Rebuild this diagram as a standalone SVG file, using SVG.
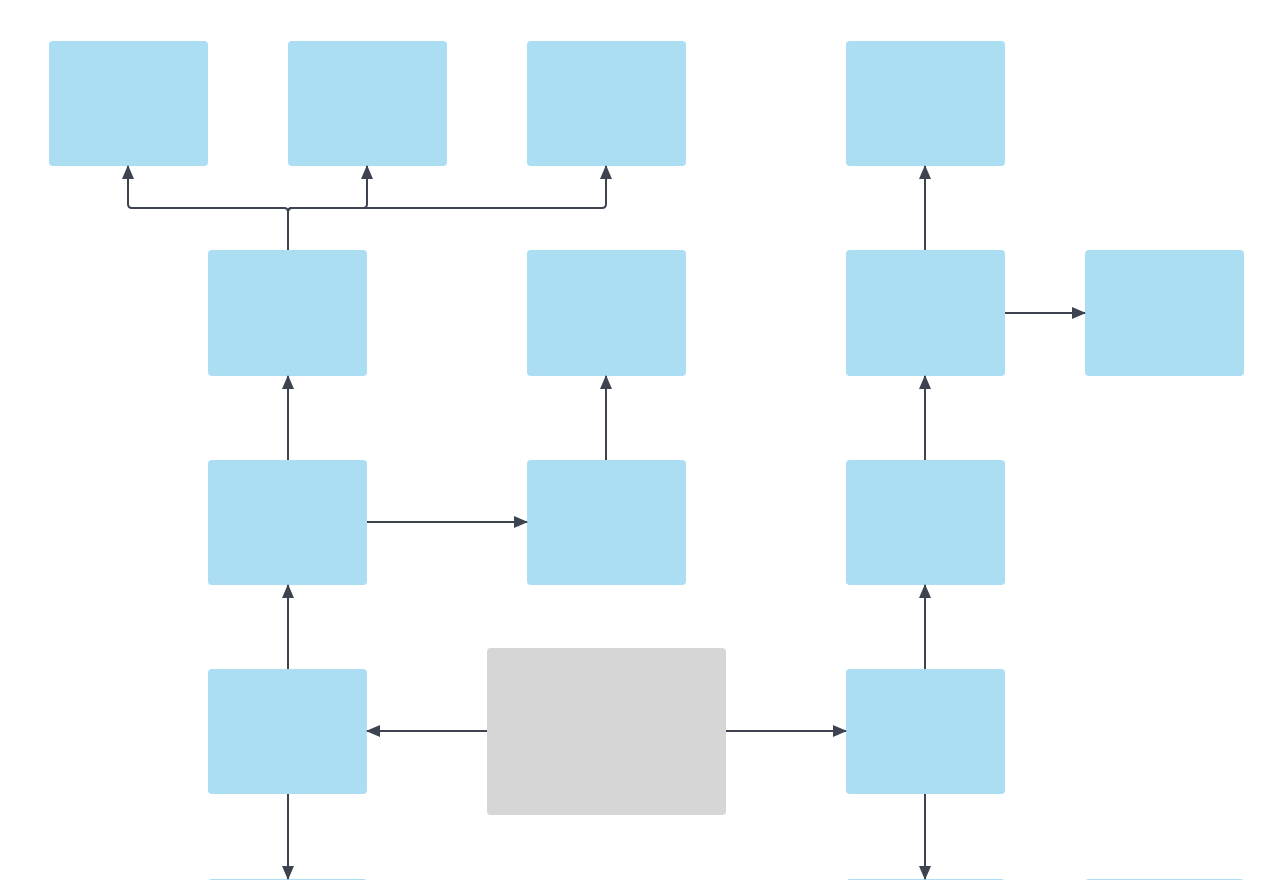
<svg xmlns="http://www.w3.org/2000/svg" width="1280" height="880" viewBox="0 0 1280 880">
<style>
.n{fill:#abddf3;}
.g{fill:#d6d6d6;}
.c{fill:none;stroke:#3d4450;stroke-width:2;}
</style>
<defs>
<marker id="a" markerWidth="14" markerHeight="12" viewBox="0 0 14 12" refX="13" refY="6" orient="auto" markerUnits="userSpaceOnUse">
<path d="M0,0 L14,6 L0,12 Z" fill="#3d4450"/>
</marker>
</defs>
<rect width="1280" height="880" fill="#ffffff"/>
<g id="n1"><rect class="n" x="49" y="41" width="159" height="125" rx="4"/></g>
<g id="n2"><rect class="n" x="288" y="41" width="159" height="125" rx="4"/></g>
<g id="n3"><rect class="n" x="527" y="41" width="159" height="125" rx="4"/></g>
<g id="n4"><rect class="n" x="846" y="41" width="159" height="125" rx="4"/></g>
<g id="n5"><rect class="n" x="208" y="250" width="159" height="126" rx="4"/></g>
<g id="n6"><rect class="n" x="527" y="250" width="159" height="126" rx="4"/></g>
<g id="n7"><rect class="n" x="846" y="250" width="159" height="126" rx="4"/></g>
<g id="n8"><rect class="n" x="1085" y="250" width="159" height="126" rx="4"/></g>
<g id="n9"><rect class="n" x="208" y="460" width="159" height="125" rx="4"/></g>
<g id="n10"><rect class="n" x="527" y="460" width="159" height="125" rx="4"/></g>
<g id="n11"><rect class="n" x="846" y="460" width="159" height="125" rx="4"/></g>
<g id="n12"><rect class="n" x="208" y="669" width="159" height="125" rx="4"/></g>
<g id="n13"><rect class="g" x="487" y="648" width="239" height="167" rx="4"/></g>
<g id="n14"><rect class="n" x="846" y="669" width="159" height="125" rx="4"/></g>
<g id="n15"><rect class="n" x="208" y="879" width="159" height="125" rx="4"/></g>
<g id="n16"><rect class="n" x="846" y="879" width="159" height="125" rx="4"/></g>
<g id="n17"><rect class="n" x="1085" y="879" width="159" height="125" rx="4"/></g>
<g id="connectors">
<path class="c" d="M288 250 V212 Q288 208 284 208 H132 Q128 208 128 204 V166" marker-end="url(#a)"/>
<path class="c" d="M288 250 V212 Q288 208 292 208 H363 Q367 208 367 204 V166" marker-end="url(#a)"/>
<path class="c" d="M288 250 V212 Q288 208 292 208 H602 Q606 208 606 204 V166" marker-end="url(#a)"/>
<path class="c" d="M288 460 V376" marker-end="url(#a)"/>
<path class="c" d="M288 669 V585" marker-end="url(#a)"/>
<path class="c" d="M367 522 H527" marker-end="url(#a)"/>
<path class="c" d="M606 460 V376" marker-end="url(#a)"/>
<path class="c" d="M487 731 H367" marker-end="url(#a)"/>
<path class="c" d="M726 731 H846" marker-end="url(#a)"/>
<path class="c" d="M925 669 V585" marker-end="url(#a)"/>
<path class="c" d="M925 460 V376" marker-end="url(#a)"/>
<path class="c" d="M925 250 V166" marker-end="url(#a)"/>
<path class="c" d="M1005 313 H1085" marker-end="url(#a)"/>
<path class="c" d="M288 794 V879" marker-end="url(#a)"/>
<path class="c" d="M925 794 V879" marker-end="url(#a)"/>
</g>
</svg>
